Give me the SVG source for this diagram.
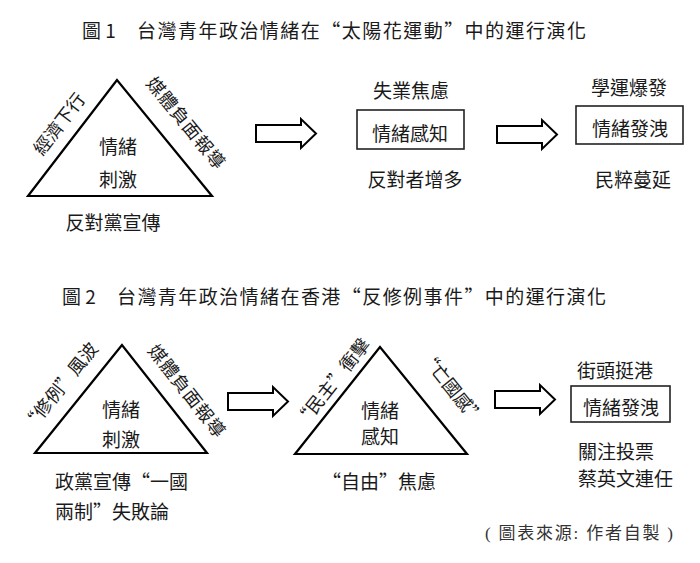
<svg xmlns="http://www.w3.org/2000/svg" width="700" height="563" viewBox="0 0 700 563">
<defs>
<style>
text{font-family:"Noto Sans CJK TC","Noto Sans CJK SC",sans-serif;fill:#1a1a1a;}
.t{font-size:19px;}
.b{font-size:19px;}
.r{font-size:18px;}
.c{text-anchor:middle;dominant-baseline:central;}
.tri{fill:#fff;stroke:#000;stroke-width:2.2;stroke-linejoin:miter;}
.box{fill:#fff;stroke:#222;stroke-width:1.6;}
.arr{fill:#fff;stroke:#000;stroke-width:2;stroke-linejoin:miter;}
.src{font-family:"Liberation Serif","Noto Sans CJK TC",serif;font-size:17px;fill:#333;}
</style>
<path id="blockArrow" d="M0,-8.5 H45 V-14.5 L60,0 L45,14.5 V8.5 H0 Z"/>
</defs>
<rect width="700" height="563" fill="#fff"/>

<g id="title1">
<text class="t" x="82" y="38">圖 1</text>
<text class="t" x="137" y="38" textLength="449" lengthAdjust="spacing">台灣青年政治情緒在“太陽花運動”中的運行演化</text>
</g>

<g id="triangle1">
<polygon class="tri" points="117,80 28,196 212,196"/>
<text class="b c" x="118" y="145">情緒</text>
<text class="b c" x="118" y="178">刺激</text>
<text class="r c" transform="translate(58,123) rotate(-52.5)" textLength="72" lengthAdjust="spacing">經濟下行</text>
<text class="r c" transform="translate(187,122) rotate(50.7)" textLength="112" lengthAdjust="spacing">媒體負面報導</text>
<text class="b c" x="113" y="221">反對黨宣傳</text>
</g>

<g id="perception1">
<text class="b c" x="411" y="89">失業焦慮</text>
<rect class="box" x="357" y="110" width="107" height="39"/>
<text class="b c" x="410" y="132">情緒感知</text>
<text class="b c" x="415" y="178">反對者增多</text>
</g>

<g id="venting1">
<text class="b c" x="629" y="86">學運爆發</text>
<rect class="box" x="576" y="106" width="107" height="38"/>
<text class="b c" x="630" y="127">情緒發洩</text>
<text class="b c" x="633" y="178">民粹蔓延</text>
</g>

<g id="title2">
<text class="t" x="62" y="304">圖 2</text>
<text class="t" x="117" y="304" textLength="489" lengthAdjust="spacing">台灣青年政治情緒在香港“反修例事件”中的運行演化</text>
</g>

<g id="triangle2">
<polygon class="tri" points="122,345 35,453 207,453"/>
<text class="b c" x="121" y="408">情緒</text>
<text class="b c" x="121" y="438">刺激</text>
<text class="r c" transform="translate(59,386) rotate(-51.1)">“修例”風波</text>
<text class="r c" transform="translate(188,390) rotate(51.8)" textLength="112" lengthAdjust="spacing">媒體負面報導</text>
<text class="b" x="55" y="480" dominant-baseline="central">政黨宣傳“一國</text>
<text class="b" x="55" y="510" dominant-baseline="central">兩制”失敗論</text>
</g>

<g id="triangle3">
<polygon class="tri" points="380,347 295,454 467,454"/>
<text class="b c" x="380" y="409">情緒</text>
<text class="b c" x="380" y="435">感知</text>
<text class="r c" transform="translate(331,382) rotate(-51.5)">“民主”衝擊</text>
<text class="r c" transform="translate(453,387) rotate(50.9)">“亡國感”</text>
<text class="b c" x="379" y="480">“自由”焦慮</text>
</g>

<g id="venting2">
<text class="b c" x="615" y="369">街頭挺港</text>
<rect class="box" x="571" y="386" width="99" height="36"/>
<text class="b c" x="621" y="406">情緒發洩</text>
<text class="b" x="578" y="450" dominant-baseline="central">關注投票</text>
<text class="b" x="578" y="477" dominant-baseline="central">蔡英文連任</text>
</g>

<g id="connectors">
<use href="#blockArrow" class="arr" transform="translate(256,133.5)"/>
<use href="#blockArrow" class="arr" transform="translate(497,134.5)"/>
<use href="#blockArrow" class="arr" transform="translate(228,401.5)"/>
<use href="#blockArrow" class="arr" transform="translate(495,399.5)"/>
</g>

<g id="source">
<text class="src" x="485" y="539" textLength="188" lengthAdjust="spacing">( 圖表來源: 作者自製 )</text>
</g>
</svg>
